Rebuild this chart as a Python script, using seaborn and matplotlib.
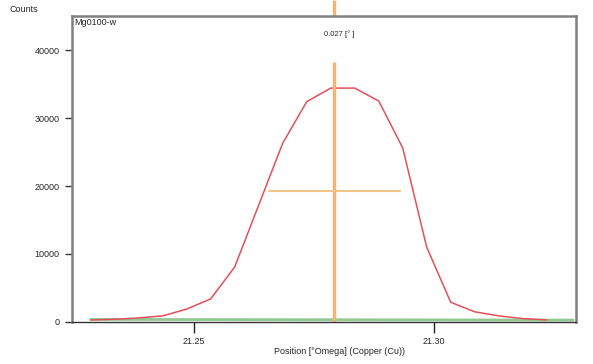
import numpy as np
import pandas as pd
import seaborn as sns
import matplotlib.pyplot as plt

# scan data
position = [21.2285, 21.2335, 21.2385, 21.2435, 21.2485, 21.2535, 21.2585,
            21.2635, 21.2685, 21.2735, 21.2785, 21.2835, 21.2885, 21.2935,
            21.2985, 21.3035, 21.3085, 21.3135, 21.3185, 21.3235]
counts = [300, 400, 600, 900, 1900, 3400, 8100, 17200, 26300, 32400,
          34400, 34400, 32500, 25600, 11000, 2900, 1500, 900, 500, 300]

bg_position = [21.2285, 21.2790, 21.2790, 21.3290]
bg_counts = [380, 380, 280, 280]

peak_pos = 21.2792
fwhm_left, fwhm_right = 21.2656, 21.2929
fwhm_level = 19250
fwhm_label = "0.027 [° ]"

scan_name = "Mg0100-w"
x_ticks = [21.25, 21.30]
y_ticks = [0, 10000, 20000, 30000, 40000]

df = pd.DataFrame({"pos": position, "counts": counts})
bg = pd.DataFrame({"pos": bg_position, "counts": bg_counts})

sns.set_style("white")
plt.rcParams["font.family"] = ["Liberation Sans", "DejaVu Sans"]

fig = plt.figure(figsize=(5.93, 3.64), dpi=100)
ax = fig.add_axes([0.1214, 0.1154, 0.8499, 0.8406])

sns.lineplot(data=bg, x="pos", y="counts", ax=ax, color="#90c890", lw=2, sort=False)
sns.lineplot(data=df, x="pos", y="counts", ax=ax, color="#e4505a", lw=1.1)

# peak marker and FWHM bar
ax.plot([peak_pos, peak_pos], [0, 38200], color="#f7b46e", lw=2.5, solid_capstyle="butt")
ax.plot([peak_pos, peak_pos], [45000, 47400], color="#f7b46e", lw=2.5,
        solid_capstyle="butt", clip_on=False)
ax.plot([fwhm_left, fwhm_right], [fwhm_level, fwhm_level], color="#f3c58a", lw=1.5)
ax.text(peak_pos + 0.001, 42300, fwhm_label, fontsize=5.5, ha="center", va="center")
ax.text(0.004, 0.995, scan_name, transform=ax.transAxes, fontsize=6.5, ha="left", va="top")

ax.set_xlim(21.2246, 21.3296)
ax.set_ylim(0, 45000)
ax.set_xticks(x_ticks)
ax.set_xticklabels([f"{t:.2f}" for t in x_ticks], fontsize=6.5)
ax.set_yticks(y_ticks)
ax.set_yticklabels([str(t) for t in y_ticks], fontsize=6.5)
ax.tick_params(axis="x", direction="out", length=8, width=1, color="#222222", pad=3,
               bottom=True)
ax.tick_params(axis="y", direction="out", length=5, width=1, color="#333333", pad=4,
               left=True)
ax.set_xlabel("")
ax.set_ylabel("")

for side in ["left", "top", "right"]:
    ax.spines[side].set_color("#808080")
    ax.spines[side].set_linewidth(1.8)
ax.spines["bottom"].set_color("#333333")
ax.spines["bottom"].set_linewidth(1)

fig.text(10 / 593, 1 - 10 / 364, "Counts", fontsize=6.5, ha="left", va="center")
fig.text(340 / 593, 1 - 352 / 364, "Position [°Omega] (Copper (Cu))", fontsize=6.5,
         ha="center", va="center")

fig.savefig("out.png", dpi=100)
